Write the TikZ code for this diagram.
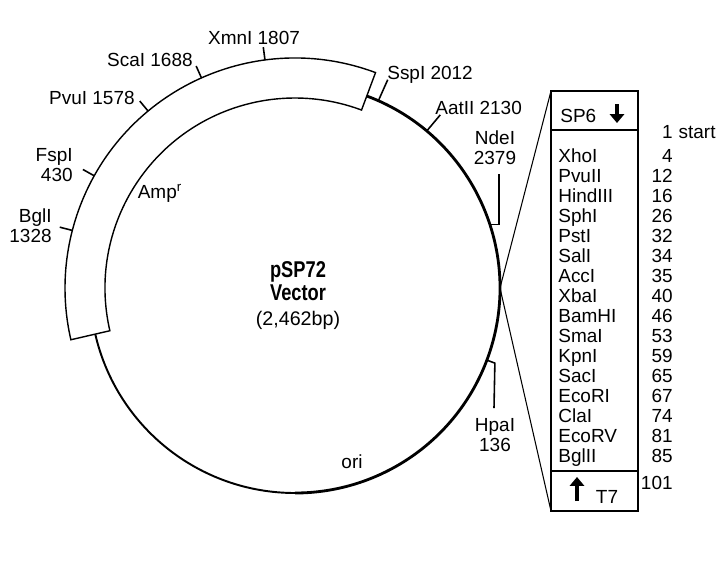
\documentclass[tikz,border=0pt]{standalone}
\usepackage{fontspec}
\setmainfont{Liberation Sans}
\newfontfamily\condfont[FakeStretch=0.8]{Liberation Sans}
\usetikzlibrary{arrows.meta}

\begin{document}
\begin{tikzpicture}[x=0.02cm, y=0.02cm, font=\fontsize{10.8}{11.3}\selectfont,
        lbl/.style={inner sep=0pt, align=center},
        sitetick/.style={line width=0.9pt},
        mcsbox/.style={draw, line width=1.4pt},
        bigarrow/.style={line width=2.2pt, -{Triangle[length=5pt, width=8pt]}}]

        \useasboundingbox (-295,-295) rectangle (425,288);

        \coordinate (mcs) at (0:205);
        \coordinate (nde) at (18:205);
        \coordinate (hpa) at (-20.6:205);
        \coordinate (sptop) at (256,197);
        \coordinate (t7bot) at (256,-223);

        % backbone
        \draw[line width=1.6pt] (69.5:205) arc[start angle=69.5, end angle=-90, radius=205];
        \draw[line width=1.1pt] (-90:205) arc[start angle=-90, end angle=-167, radius=205];

        % Amp region
        \draw[line width=0.8pt, fill=white] (69.5:230) arc[start angle=69.5, end angle=193, radius=230]
            -- (193:190) arc[start angle=193, end angle=69.5, radius=190] -- cycle;

        \foreach \a in {97.5, 114, 129.7, 150.8, 165.5}
            \draw[sitetick] (\a:230) -- (\a:243);
        \draw[sitetick] (66:205) -- (66:228);
        \draw[sitetick] (50:205) -- (50:226);

        \node[lbl, anchor=base] (xmn) at (-41,244) {XmnI 1807};
        \node[lbl, anchor=base east] (sca) at (-102,222) {ScaI 1688};
        \node[lbl, anchor=base east] (pvu) at (-160,184) {PvuI 1578};
        \node[lbl, anchor=east, align=right] (fsp) at (-222,123) {FspI\\430};
        \node[lbl, anchor=east, align=right] (bgl) at (-243,62) {BglI\\1328};
        \node[lbl, anchor=base west] (ssp) at (92,209) {SspI 2012};
        \node[lbl, anchor=base west] (aat) at (140,174) {AatII 2130};
        \node[lbl] (ndelbl) at (200,140) {NdeI\\2379};
        \node[lbl] (hpalbl) at (200,-147) {HpaI\\136};

        \draw[sitetick] (nde) -| ([shift={(4,-9)}]ndelbl.south);
        \draw[sitetick] (hpa) -- ++(8,-3) -- ([shift={(-1,10)}]hpalbl.north);

        \node[lbl] (amp) at (-135,95) {Amp\textsuperscript{r}};
        \node[lbl, anchor=base] (ori) at (57,-180) {ori};
        \node[lbl, font=\condfont\bfseries\fontsize{13}{13}\selectfont] (name) at (3,7) {pSP72\\Vector};
        \node[lbl, font=\fontsize{11.2}{12}\selectfont] (size) at (3,-32) {(2,462bp)};

        % MCS
        \draw[line width=0.6pt] (mcs) -- (sptop);
        \draw[line width=0.6pt] (mcs) -- (t7bot);
        \draw[line width=0.8pt] (256,158) rectangle (343,-183);
        \draw[mcsbox] (sptop) rectangle (343,158);
        \draw[mcsbox] (256,-183) rectangle (343,-223);

        \node[lbl, anchor=base west] (sp6) at (265,166) {SP6};
        \draw[bigarrow] (322,184) -- (322,165);
        \draw[bigarrow] (282,-213) -- (282,-189);
        \node[lbl, anchor=base] (t7) at (312,-215) {T7};

        \node[lbl, anchor=base east] (p00) at (378,150) {1};
        \node[lbl, anchor=base west] (start) at (p00.base east) {\ start};
        \foreach \enz/\pos [count=\i from 0] in {XhoI/4, PvuII/12, HindIII/16, SphI/26,
                PstI/32, SalI/34, AccI/35, XbaI/40, BamHI/46, SmaI/53, KpnI/59,
                SacI/65, EcoRI/67, ClaI/74, EcoRV/81, BglII/85} {
            \node[lbl, anchor=base west] (e\i) at (263,126-20*\i) {\enz};
            \node[lbl, anchor=base east] (p\i) at (378,126-20*\i) {\pos};
        }
        \node[lbl, anchor=base east] (p101) at (378,-201) {101};

        % Grid
        %\draw[help lines] (-295,-295) grid[step=20] (425,288);
    \end{tikzpicture}
\end{document}
